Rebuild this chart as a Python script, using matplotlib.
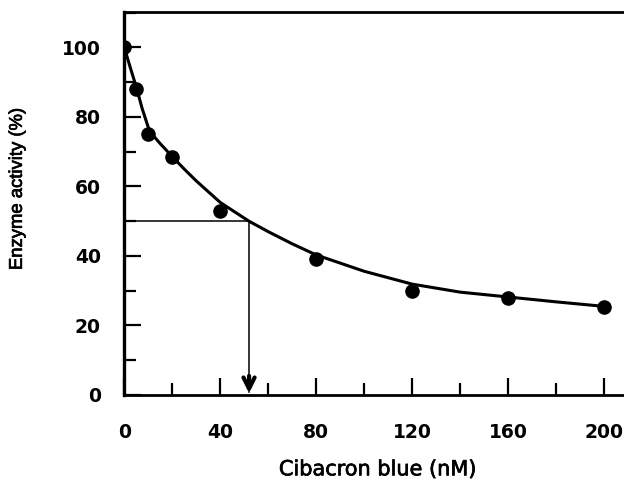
import matplotlib
matplotlib.use("Agg")
import matplotlib.pyplot as plt
import matplotlib.patheffects as pe
from matplotlib.ticker import MultipleLocator

# data points (Cibacron blue nM, enzyme activity %)
conc = [0, 5, 10, 20, 40, 80, 120, 160, 200]
activity = [100, 88, 75, 68.5, 53, 39, 30, 28, 25.2]

# fitted curve
curve_x = [0, 2.5, 5, 7.5, 10, 12.5, 15, 20, 25, 30, 40, 52, 60, 70, 80, 100, 120, 140, 160, 180, 200]
curve_y = [100, 94.2, 88.6, 82.3, 77.0, 74.3, 72.3, 68.6, 65.0, 61.6, 55.4, 50.0, 47.0, 43.5, 40.3, 35.6, 31.9, 29.6, 28.2, 26.8, 25.5]

ic50 = 52
half = 50

xticks = [0, 40, 80, 120, 160, 200]
yticks = [0, 20, 40, 60, 80, 100]

fig = plt.figure(figsize=(6.24, 4.83), dpi=100)
ax = fig.add_axes([0.1992, 0.1822, 0.8008, 0.7929])

ax.plot(curve_x, curve_y, color="black", lw=2.2, solid_capstyle="round", zorder=3)
ax.plot(conc, activity, "o", color="black", ms=9.5, zorder=4)

ax.plot([0, ic50], [half, half], color="black", lw=1.1, zorder=2)
ax.plot([ic50, ic50], [half, 1.0], color="black", lw=1.1, zorder=2)
ax.annotate("", xy=(ic50, 0.5), xytext=(ic50, 5.5),
            arrowprops=dict(arrowstyle="->,head_length=0.8,head_width=0.4",
                            color="black", lw=3.0, shrinkA=0, shrinkB=0),
            zorder=5)

ax.set_xlim(0, 208.3)
ax.set_ylim(0, 110.2)

ax.set_xticks(xticks)
ax.set_yticks(yticks)
ax.xaxis.set_minor_locator(MultipleLocator(20))
ax.yaxis.set_minor_locator(MultipleLocator(10))

ax.spines["right"].set_visible(False)
for s in ["left", "bottom", "top"]:
    ax.spines[s].set_linewidth(2.0)
ax.spines["left"].set_linewidth(2.4)

ax.tick_params(which="major", direction="in", length=12, width=1.6)
ax.tick_params(which="minor", direction="in", length=8.5, width=1.6)
ax.tick_params(axis="x", which="major", pad=20)
ax.tick_params(axis="y", which="major", pad=17)
ax.tick_params(top=False, right=False, which="both")

for lab in ax.get_xticklabels() + ax.get_yticklabels():
    lab.set_fontfamily("DejaVu Sans")
    lab.set_fontweight("bold")
    lab.set_fontsize(13.5)

stroke = [pe.withStroke(linewidth=0.5, foreground="black")]
ax.set_xlabel("Cibacron blue (nM)", fontfamily="DejaVu Sans", fontsize=15,
              path_effects=stroke)
ax.xaxis.set_label_coords(0.507, -0.168)
ax.set_ylabel("Enzyme activity (%)", fontfamily="Liberation Sans", fontsize=13.3,
              path_effects=stroke)
ax.yaxis.set_label_coords(-0.197, 0.538)

fig.savefig("out.png", dpi=100)
